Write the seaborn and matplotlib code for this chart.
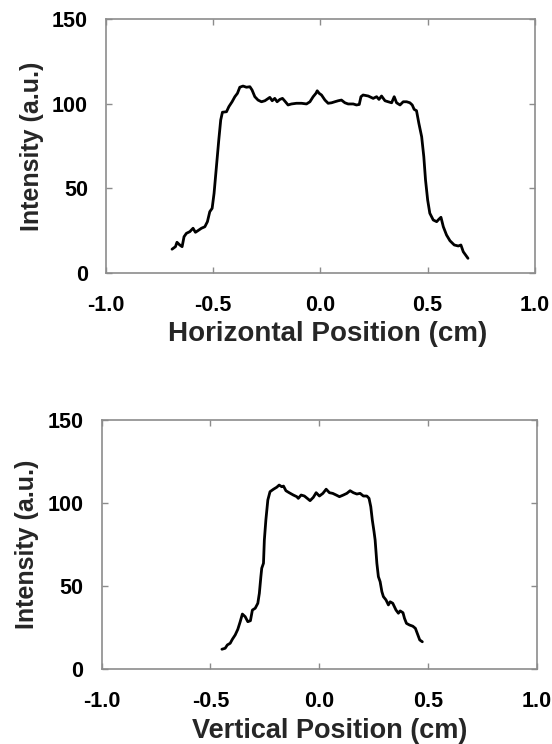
import numpy as np
import pandas as pd
import matplotlib
matplotlib.use("Agg")
import matplotlib.pyplot as plt
import seaborn as sns

# horizontal profile
horiz_x = [-0.692, -0.676, -0.669, -0.656, -0.645, -0.636, -0.625, -0.609, -0.594, -0.583,
           -0.571, -0.555, -0.539, -0.527, -0.516, -0.505, -0.496, -0.485, -0.474, -0.465,
           -0.457, -0.438, -0.427, -0.412, -0.399, -0.387, -0.376, -0.361, -0.345, -0.329,
           -0.319, -0.306, -0.291, -0.275, -0.259, -0.236, -0.225, -0.213, -0.202, -0.189,
           -0.177, -0.166, -0.151, -0.135, -0.112, -0.088, -0.065, -0.049, -0.034, -0.021,
           -0.015, -0.006, 0.005, 0.021, 0.036, 0.052, 0.067, 0.083, 0.098, 0.114,
           0.129, 0.153, 0.168, 0.181, 0.189, 0.199, 0.223, 0.246, 0.262, 0.273,
           0.285, 0.301, 0.316, 0.332, 0.344, 0.355, 0.371, 0.386, 0.402, 0.417,
           0.428, 0.437, 0.448, 0.459, 0.472, 0.482, 0.490, 0.500, 0.510, 0.526,
           0.542, 0.552, 0.562, 0.573, 0.588, 0.604, 0.624, 0.643, 0.655, 0.666, 0.688]
horiz_y = [13.9, 15.4, 18.0, 16.4, 15.4, 21.3, 23.3, 24.3, 26.3, 23.9,
           24.9, 26.3, 27.2, 30.2, 36.1, 38.1, 47.0, 62.8, 78.6, 90.4,
           95.0, 95.3, 98.3, 101.2, 104.2, 106.2, 109.8, 110.5, 109.8, 110.1,
           108.2, 104.2, 102.2, 101.2, 101.8, 103.8, 101.8, 103.2, 101.2, 102.6,
           103.2, 101.6, 99.3, 99.9, 100.3, 100.3, 99.9, 101.2, 104.2, 106.2,
           107.7, 106.2, 105.2, 102.2, 100.3, 100.6, 101.2, 101.8, 102.2, 100.6,
           99.9, 99.9, 99.3, 99.6, 104.2, 105.2, 104.6, 103.2, 104.2, 102.6,
           104.6, 101.8, 101.2, 100.6, 104.2, 100.6, 99.3, 101.2, 101.2, 100.6,
           99.3, 96.7, 95.9, 88.4, 80.5, 68.7, 54.9, 43.0, 35.2, 31.2,
           30.2, 31.6, 32.8, 27.2, 22.3, 18.9, 16.4, 15.8, 16.4, 12.4, 8.5]

# vertical profile
vert_x = [-0.447, -0.432, -0.422, -0.409, -0.399, -0.386, -0.374, -0.363, -0.353, -0.340,
          -0.328, -0.316, -0.307, -0.294, -0.282, -0.275, -0.268, -0.264, -0.256, -0.252,
          -0.245, -0.236, -0.226, -0.210, -0.195, -0.184, -0.172, -0.164, -0.153, -0.138,
          -0.119, -0.103, -0.096, -0.083, -0.068, -0.042, -0.027, -0.014, 0.001, 0.017,
          0.032, 0.047, 0.062, 0.078, 0.093, 0.111, 0.127, 0.142, 0.157, 0.173,
          0.188, 0.203, 0.219, 0.229, 0.237, 0.244, 0.252, 0.257, 0.265, 0.272,
          0.280, 0.288, 0.295, 0.307, 0.318, 0.326, 0.338, 0.353, 0.364, 0.372,
          0.385, 0.392, 0.401, 0.415, 0.430, 0.442, 0.452, 0.462, 0.474]
vert_y = [11.9, 12.5, 14.5, 15.5, 17.9, 20.5, 23.9, 28.5, 33.1, 31.5,
          28.5, 29.1, 35.5, 36.6, 39.6, 45.6, 55.6, 60.7, 63.7, 77.7,
          89.8, 101.8, 106.8, 108.3, 109.5, 110.8, 109.8, 110.2, 107.4, 106.2,
          104.8, 103.8, 102.8, 104.8, 104.2, 101.4, 103.4, 106.2, 104.2, 105.8,
          108.3, 106.2, 105.8, 104.8, 103.8, 104.8, 105.8, 107.4, 106.2, 105.4,
          105.8, 104.2, 104.2, 102.8, 97.8, 89.8, 82.7, 77.7, 63.7, 55.6,
          52.6, 46.6, 43.6, 41.6, 38.6, 40.5, 39.6, 35.5, 33.6, 35.0,
          33.9, 30.5, 27.5, 26.5, 25.8, 24.5, 21.0, 17.5, 16.4]

x_ticks = [-1.0, -0.5, 0.0, 0.5, 1.0]
y_ticks = [0, 50, 100, 150]

sns.set_style("white")
plt.rcParams['font.family'] = ['Liberation Sans', 'DejaVu Sans']
plt.rcParams['font.weight'] = 'bold'

fig = plt.figure(figsize=(5.52, 7.44), dpi=100)
ax_top = fig.add_axes([0.192, 0.6335, 0.777, 0.3405])
ax_bot = fig.add_axes([0.184, 0.1008, 0.7885, 0.3347])

panels = [
    (ax_top, horiz_x, horiz_y, 'Horizontal Position (cm)', 20, (0.517, -0.19)),
    (ax_bot, vert_x, vert_y, 'Vertical Position (cm)', 19.5, (0.525, -0.195)),
]

for ax, xs, ys, xlab, xfs, lab_xy in panels:
    df = pd.DataFrame({'pos': xs, 'intensity': ys})
    sns.lineplot(data=df, x='pos', y='intensity', ax=ax, color='black',
                 linewidth=2.0, estimator=None, sort=False)
    ax.set_xlim(-1, 1)
    ax.set_ylim(0, 150)
    ax.set_xticks(x_ticks)
    ax.set_xticklabels(['%.1f' % t for t in x_ticks])
    ax.set_yticks(y_ticks)
    ax.tick_params(direction='in', length=4, width=1, color='#8c8c8c',
                   top=True, right=True, bottom=True, left=True,
                   labelsize=15.5, labelcolor='black')
    ax.tick_params(axis='x', pad=16)
    ax.tick_params(axis='y', pad=13)
    for lbl in ax.get_xticklabels() + ax.get_yticklabels():
        lbl.set_fontweight('bold')
    for sp in ax.spines.values():
        sp.set_visible(True)
        sp.set_color('#8c8c8c')
        sp.set_linewidth(1.2)
    ax.set_xlabel(xlab, fontsize=xfs, fontweight='bold')
    ax.set_ylabel('Intensity (a.u.)', fontsize=18, fontweight='bold', labelpad=6)
    ax.xaxis.set_label_coords(*lab_xy)
    ax.grid(False)

fig.savefig('out.png', dpi=100)
